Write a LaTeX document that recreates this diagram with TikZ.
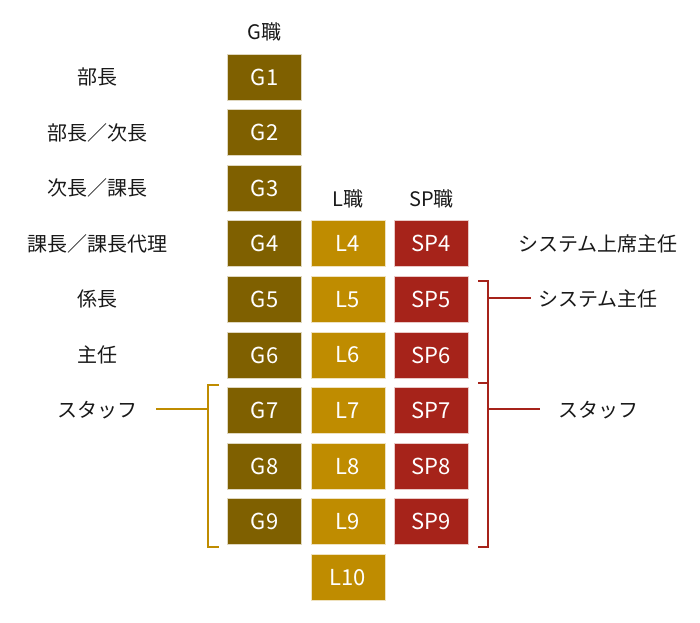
\documentclass[tikz,border=0pt]{standalone}
\usepackage{fontspec}
\setmainfont{Noto Sans CJK JP}
\usepackage{tikz}
\usetikzlibrary{positioning}
\definecolor{gjob}{HTML}{7F6000}
\definecolor{ljob}{HTML}{BF8C00}
\definecolor{spjob}{HTML}{A6231A}

\begin{document}
\begin{tikzpicture}[
    base/.style = {rectangle, node distance = 41.7pt, minimum width=55.5pt, minimum height=34.5pt, inner sep=0pt, line width=0.6pt, text=white, font=\fontsize{16.5}{19}\selectfont},
    gbox/.style = {base, fill=gjob, draw=gjob!25!white},
    lbox/.style = {base, fill=ljob, draw=ljob!25!white},
    spbox/.style = {base, fill=spjob, draw=spjob!25!white},
    rank/.style = {node distance = 41.7pt, inner sep=0pt, text=black!90, font=\fontsize{15}{18}\selectfont},
    lbrace/.style = {draw=ljob, line width=1.5pt},
    rbrace/.style = {draw=spjob, line width=1.5pt},
]
    \useasboundingbox (0,0) rectangle (525pt,-467.25pt);

    % G column
    \node[gbox] (g1) at (198.4pt,-57.75pt) {G1};
    \node[gbox, below of = g1] (g2) {G2};
    \node[gbox, below of = g2] (g3) {G3};
    \node[gbox, below of = g3] (g4) {G4};
    \node[gbox, below of = g4] (g5) {G5};
    \node[gbox, below of = g5] (g6) {G6};
    \node[gbox, below of = g6] (g7) {G7};
    \node[gbox, below of = g7] (g8) {G8};
    \node[gbox, below of = g8] (g9) {G9};

    % L column
    \node[lbox, right of = g4, xshift=20.9pt] (l4) {L4};
    \node[lbox, below of = l4] (l5) {L5};
    \node[lbox, below of = l5] (l6) {L6};
    \node[lbox, below of = l6] (l7) {L7};
    \node[lbox, below of = l7] (l8) {L8};
    \node[lbox, below of = l8] (l9) {L9};
    \node[lbox, below of = l9] (l10) {L10};

    % SP column
    \node[spbox, right of = l4, xshift=20.9pt] (sp4) {SP4};
    \node[spbox, below of = sp4] (sp5) {SP5};
    \node[spbox, below of = sp5] (sp6) {SP6};
    \node[spbox, below of = sp6] (sp7) {SP7};
    \node[spbox, below of = sp7] (sp8) {SP8};
    \node[spbox, below of = sp8] (sp9) {SP9};

    % headers
    \node[rank, above of = g1, yshift=-8pt] (ghead) {G職};
    \node[rank, above of = l4, yshift=-8pt] (lhead) {L職};
    \node[rank, above of = sp4, yshift=-8pt] (sphead) {SP職};

    % G ranks
    \node[rank, left of = g1, xshift=-83.9pt] (rg1) {部長};
    \node[rank, left of = g2, xshift=-83.9pt] (rg2) {部長／次長};
    \node[rank, left of = g3, xshift=-83.9pt] (rg3) {次長／課長};
    \node[rank, left of = g4, xshift=-83.9pt] (rg4) {課長／課長代理};
    \node[rank, left of = g5, xshift=-83.9pt] (rg5) {係長};
    \node[rank, left of = g6, xshift=-83.9pt] (rg6) {主任};
    \node[rank, left of = g7, xshift=-83.9pt] (rg7) {スタッフ};

    % SP ranks
    \node[rank, right of = sp4, xshift=83.2pt] (rsp4) {システム上席主任};
    \node[rank, right of = sp5, xshift=83.2pt] (rsp5) {システム主任};
    \node[rank, right of = sp7, xshift=83.2pt] (rsp7) {スタッフ};

    % left bracket
    \coordinate (lbt) at ([xshift=-6pt, yshift=1.5pt]g7.north west);
    \coordinate (lbtc) at ([xshift=-14.25pt, yshift=1.5pt]g7.north west);
    \coordinate (lbbc) at ([xshift=-14.25pt, yshift=-1.5pt]g9.south west);
    \coordinate (lbb) at ([xshift=-6pt, yshift=-1.5pt]g9.south west);
    \coordinate (lbm) at ([xshift=-14.25pt, yshift=1.5pt]g7.west);
    \coordinate (lbs) at ([xshift=-53.25pt, yshift=1.5pt]g7.west);
    \draw[lbrace] (lbt) -- (lbtc) -- (lbbc) -- (lbb);
    \draw[lbrace] (lbm) -- (lbs);

    % right brackets
    \coordinate (rb1t) at ([xshift=7.1pt, yshift=-3.4pt]sp5.north east);
    \coordinate (rb1tc) at ([xshift=14.6pt, yshift=-3.4pt]sp5.north east);
    \coordinate (rb1bc) at ([xshift=14.6pt, yshift=-3.7pt]sp6.south east);
    \coordinate (rb1b) at ([xshift=7.1pt, yshift=-3.7pt]sp6.south east);
    \coordinate (rb2bc) at ([xshift=14.6pt, yshift=-1.3pt]sp9.south east);
    \coordinate (rb2b) at ([xshift=7.1pt, yshift=-1.3pt]sp9.south east);
    \coordinate (rb1m) at ([xshift=14.6pt, yshift=1pt]sp5.east);
    \coordinate (rb1s) at ([xshift=46.5pt, yshift=1pt]sp5.east);
    \coordinate (rb2m) at ([xshift=14.6pt, yshift=1.5pt]sp7.east);
    \coordinate (rb2s) at ([xshift=53.25pt, yshift=1.5pt]sp7.east);
    \draw[rbrace] (rb1t) -- (rb1tc) -- (rb1bc) -- (rb1b);
    \draw[rbrace] (rb1bc) -- (rb2bc) -- (rb2b);
    \draw[rbrace] (rb1m) -- (rb1s);
    \draw[rbrace] (rb2m) -- (rb2s);

\end{tikzpicture}
\end{document}
